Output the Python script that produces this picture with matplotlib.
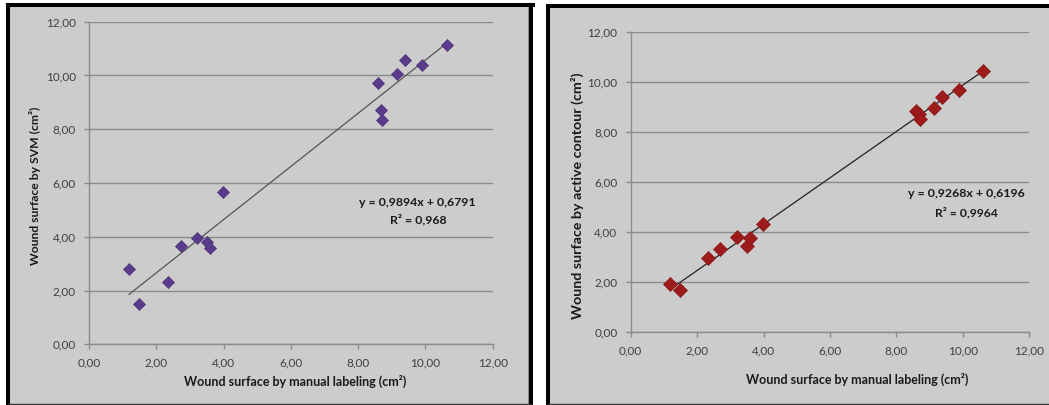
import matplotlib
matplotlib.use("Agg")
import matplotlib.pyplot as plt
from matplotlib.patches import Rectangle
from matplotlib.lines import Line2D

# ---- data ----
manual_svm = [1.19, 1.48, 2.34, 2.72, 3.21, 3.52, 3.61, 3.97, 8.60, 8.69, 8.71, 9.15, 9.39, 9.89, 10.65]
svm_area = [2.79, 1.49, 2.32, 3.66, 3.97, 3.79, 3.57, 5.68, 9.73, 8.71, 8.34, 10.07, 10.59, 10.38, 11.13]

manual_ac = [1.19, 1.48, 2.33, 2.69, 3.21, 3.50, 3.60, 3.97, 8.60, 8.69, 8.71, 9.13, 9.37, 9.88, 10.62]
ac_area = [1.92, 1.69, 2.99, 3.32, 3.80, 3.47, 3.79, 4.32, 8.85, 8.72, 8.55, 8.99, 9.43, 9.69, 10.45]

svm_slope, svm_intercept, svm_r2 = 0.9894, 0.6791, "0,968"
ac_slope, ac_intercept, ac_r2 = 0.9268, 0.6196, "0,9964"

ticks = [0, 2, 4, 6, 8, 10, 12]
tick_labels = ["0,00", "2,00", "4,00", "6,00", "8,00", "10,00", "12,00"]

xlabel = "Wound surface by manual labeling (cm²)"
ylabel_svm = "Wound surface by SVM (cm²)"
ylabel_ac = "Wound surface by active contour (cm²)"

# ---- figure ----
W, H = 1049, 405
plt.rcParams["font.family"] = ["Lato", "DejaVu Sans"]
fig = plt.figure(figsize=(W / 100, H / 100), dpi=100, facecolor="white")
renderer = fig.canvas.get_renderer()

BG = "#cccccc"

def fx(x):
    return x / W

def fy(y):
    return 1 - y / H

def fit_size(s, target_px, weight="normal"):
    t = fig.text(0, 0, s, fontsize=10, fontweight=weight)
    w = t.get_window_extent(renderer=renderer).width
    t.remove()
    return 10 * target_px / w

def label(x, y, s, target_px, rotation=0, weight="bold", color="#1a1a1a"):
    size = fit_size(s, target_px, weight)
    fig.text(fx(x), fy(y), s, ha="center", va="center", rotation=rotation,
             fontsize=size, fontweight=weight, color=color)

def panel(x0, y0, x1, y1, right_border=True):
    fig.add_artist(Rectangle((fx(x0), fy(y1)), fx(x1 - x0), (y1 - y0) / H,
                             transform=fig.transFigure, facecolor=BG, edgecolor="none", zorder=0))
    lw = 2.9
    fig.add_artist(Line2D([fx(x0), fx(x1 + 2)], [fy(y0), fy(y0)], color="black", lw=lw,
                          transform=fig.transFigure, solid_capstyle="projecting", zorder=1))
    fig.add_artist(Line2D([fx(x0), fx(x0)], [fy(y0), fy(y1)], color="black", lw=lw,
                          transform=fig.transFigure, solid_capstyle="projecting", zorder=1))
    if right_border:
        fig.add_artist(Line2D([fx(x1), fx(x1)], [fy(y0), fy(y1)], color="black", lw=lw,
                              transform=fig.transFigure, solid_capstyle="projecting", zorder=1))
        fig.add_artist(Line2D([fx(x1 - 3), fx(x1 - 3)], [fy(y0 + 2), fy(y1)], color="#888888", lw=0.8,
                              transform=fig.transFigure, zorder=1))
    fig.add_artist(Line2D([fx(x0), fx(x1)], [fy(y1), fy(y1)], color="#333333", lw=1.0,
                          transform=fig.transFigure, zorder=1))

panel(8, 5, 531, 403.5, right_border=True)
panel(548, 5.5, 1060, 404, right_border=False)

tick_size = fit_size("12,00", 30)

def make_axes(left_px, top_px, right_px, bottom_px):
    ax = fig.add_axes([fx(left_px), fy(bottom_px), fx(right_px - left_px), (bottom_px - top_px) / H])
    ax.set_facecolor("none")
    ax.set_xlim(0, 12)
    ax.set_ylim(0, 12)
    ax.set_xticks(ticks)
    ax.set_xticklabels(tick_labels)
    ax.set_yticks(ticks)
    ax.set_yticklabels(tick_labels)
    ax.grid(axis="y", color="#8a8a8a", lw=1.0)
    ax.set_axisbelow(True)
    for s in ["top", "right"]:
        ax.spines[s].set_visible(False)
    for s in ["left", "bottom"]:
        ax.spines[s].set_color("#8a8a8a")
        ax.spines[s].set_linewidth(1.0)
    ax.tick_params(axis="both", direction="out", length=3.5, width=1.0, color="#8a8a8a",
                   labelsize=tick_size, labelcolor="#404040")
    ax.tick_params(axis="x", pad=6)
    ax.tick_params(axis="y", pad=6)
    return ax

# ---- left: SVM ----
ax1 = make_axes(89, 21.7, 492.7, 344.3)
x0, x1 = min(manual_svm), max(manual_svm)
ax1.plot([x0, x1], [svm_slope * x0 + svm_intercept, svm_slope * x1 + svm_intercept],
         color="#555555", lw=0.9, zorder=2)
ax1.plot(manual_svm, svm_area, linestyle="none", marker="D", markersize=6.0,
         markerfacecolor="#5b3c8c", markeredgecolor="#4a2f78", markeredgewidth=0.5, zorder=3, clip_on=False)
label(417.5, 203, "y = 0,9894x + 0,6791", 117)
label(418, 219.5, "R² = " + svm_r2, 57)
label(295, 381.5, xlabel, 223)
label(35, 186, ylabel_svm, 159, rotation=90)

# ---- right: active contour ----
ax2 = make_axes(630.7, 32.3, 1029.3, 332.3)
x0, x1 = min(manual_ac), max(manual_ac)
ax2.plot([x0, x1], [ac_slope * x0 + ac_intercept, ac_slope * x1 + ac_intercept],
         color="#222222", lw=0.9, zorder=2)
ax2.plot(manual_ac, ac_area, linestyle="none", marker="D", markersize=7.0,
         markerfacecolor="#9e1b1b", markeredgecolor="#8a1515", markeredgewidth=0.5, zorder=3, clip_on=False)
label(966, 193.3, "y = 0,9268x + 0,6196", 117)
label(966, 212.7, "R² = " + ac_r2, 63)
label(857, 379, xlabel, 223)
label(577, 196, ylabel_ac, 248, rotation=90)

fig.savefig("out.png", dpi=100, facecolor="white")
